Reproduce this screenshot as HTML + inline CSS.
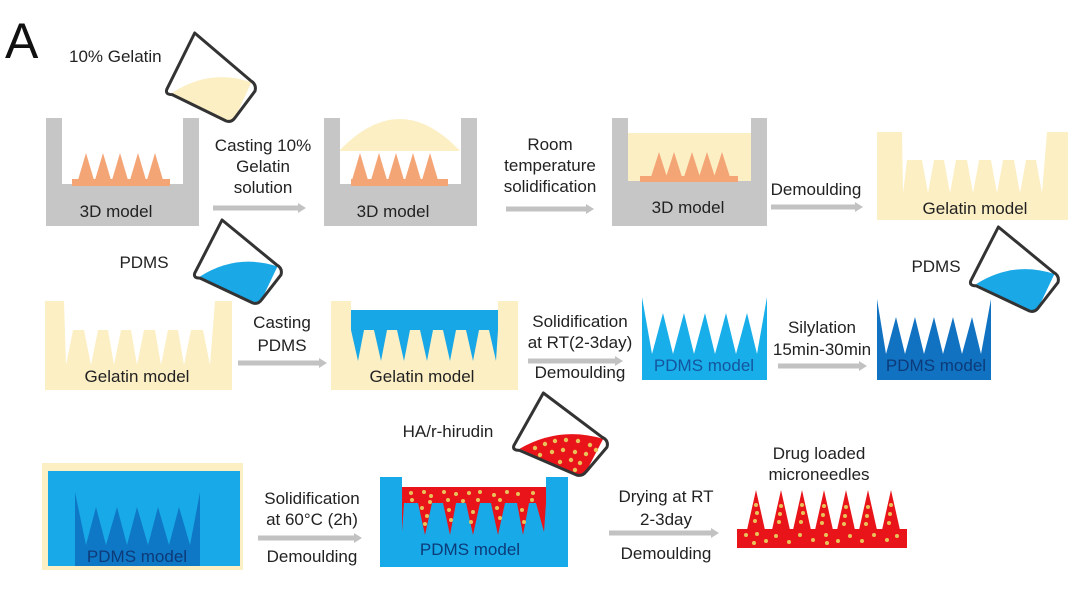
<!DOCTYPE html>
<html><head><meta charset="utf-8"><style>
html,body{margin:0;padding:0;background:#fff;}
svg{display:block;}
text{font-family:"Liberation Sans",Arial,sans-serif;fill:#222;font-size:17px;}
.c{text-anchor:middle;}
</style></head><body>
<svg width="1080" height="591" viewBox="0 0 1080 591" xmlns="http://www.w3.org/2000/svg">
<defs>
<g id="bk">
<path d="M33,0 L2,64 Q0,70 8,70 L68,100 Q74,102 78,96 L100,66 Q102,58 95,54 Z" fill="#fff"/>
</g>
</defs>
<rect width="1080" height="591" fill="#fff"/>

<!-- A -->
<text x="5" y="58" style="font-size:50px;fill:#111">A</text>
<text x="69" y="62">10% Gelatin</text>

<!-- beakers -->
<g transform="translate(165,33) scale(0.9,0.88)">
<path d="M8,68 Q50,40 96,56 L78,96 Q74,102 68,100 Z" fill="#fcefc4"/>
<path d="M33,0 L2,64 Q0,70 8,70 L68,100 Q74,102 78,96 L100,66 Q102,58 95,54 Z" fill="none" stroke="#333" stroke-width="3" vector-effect="non-scaling-stroke" stroke-linejoin="round"/>
</g>
<g transform="translate(193,220) scale(0.88,0.83)">
<path d="M8,68 Q50,40 96,56 L78,96 Q74,102 68,100 Z" fill="#1aa8e6"/>
<path d="M33,0 L2,64 Q0,70 8,70 L68,100 Q74,102 78,96 L100,66 Q102,58 95,54 Z" fill="none" stroke="#333" stroke-width="3" vector-effect="non-scaling-stroke" stroke-linejoin="round"/>
</g>
<g transform="translate(969,227) scale(0.89,0.84)">
<path d="M8,68 Q50,40 96,56 L78,96 Q74,102 68,100 Z" fill="#1aa8e6"/>
<path d="M33,0 L2,64 Q0,70 8,70 L68,100 Q74,102 78,96 L100,66 Q102,58 95,54 Z" fill="none" stroke="#333" stroke-width="3" vector-effect="non-scaling-stroke" stroke-linejoin="round"/>
</g>
<g transform="translate(512,393) scale(0.95,0.82)">
<path d="M8,68 Q50,40 96,56 L78,96 Q74,102 68,100 Z" fill="#e8141a"/>
<path d="M33,0 L2,64 Q0,70 8,70 L68,100 Q74,102 78,96 L100,66 Q102,58 95,54 Z" fill="none" stroke="#333" stroke-width="3" vector-effect="non-scaling-stroke" stroke-linejoin="round"/>
</g>
<g fill="#e9c35a">
<circle cx="535" cy="448" r="2.2"/><circle cx="545" cy="444" r="2.2"/><circle cx="555" cy="441" r="2.2"/><circle cx="566" cy="440" r="2.2"/><circle cx="578" cy="441" r="2.2"/><circle cx="590" cy="445" r="2.2"/>
<circle cx="540" cy="455" r="2.2"/><circle cx="552" cy="452" r="2.2"/><circle cx="563" cy="450" r="2.2"/><circle cx="575" cy="452" r="2.2"/><circle cx="586" cy="454" r="2.2"/><circle cx="596" cy="450" r="2.2"/>
<circle cx="560" cy="462" r="2.2"/><circle cx="571" cy="460" r="2.2"/><circle cx="580" cy="463" r="2.2"/><circle cx="575" cy="470" r="2.2"/>
</g>

<!-- Row 1 box 1 -->
<path d="M46,118 L62,118 L62,184 L183,184 L183,118 L199,118 L199,226 L46,226 Z" fill="#c6c6c6"/>
<rect x="72" y="179" width="98" height="7" fill="#f4a576"/>
<path d="M78,180 L86,153 L94,180 Z M95,180 L103,153 L111,180 Z M112,180 L120,153 L128,180 Z M130,180 L138,153 L146,180 Z M147,180 L155,153 L163,180 Z" fill="#f4a576"/>
<text class="c" x="116" y="217">3D model</text>

<text class="c" x="263" y="151">Casting 10%</text>
<text class="c" x="263" y="172">Gelatin</text>
<text class="c" x="263" y="193">solution</text>
<path d="M213,208 L300,208" stroke="#c2c2c2" stroke-width="5"/><path d="M298,203 L306,208 L298,213 Z" fill="#c2c2c2"/>

<!-- box 2 -->
<path d="M339,151 Q400,87 460,151 Z" fill="#fcefc4"/>
<path d="M324,118 L340,118 L340,184 L461,184 L461,118 L477,118 L477,226 L324,226 Z" fill="#c6c6c6"/>
<rect x="351" y="179" width="97" height="7" fill="#f4a576"/>
<path d="M352,180 L360,153 L368,180 Z M371,180 L379,153 L387,180 Z M388,180 L396,153 L404,180 Z M405,180 L413,153 L421,180 Z M422,180 L430,153 L438,180 Z" fill="#f4a576"/>
<text class="c" x="393" y="217">3D model</text>

<text class="c" x="550" y="150">Room</text>
<text class="c" x="550" y="171">temperature</text>
<text class="c" x="550" y="192">solidification</text>
<path d="M506,209 L588,209" stroke="#c2c2c2" stroke-width="5"/><path d="M586,204 L594,209 L586,214 Z" fill="#c2c2c2"/>

<!-- box 3 -->
<rect x="628" y="133" width="123" height="52" fill="#fcefc4"/>
<path d="M612,118 L628,118 L628,181 L751,181 L751,118 L767,118 L767,226 L612,226 Z" fill="#c6c6c6"/>
<rect x="640" y="176" width="98" height="6" fill="#f4a576"/>
<path d="M651,177 L659,152 L667,177 Z M666,177 L674,152 L682,177 Z M684,177 L692,152 L700,177 Z M699,177 L707,152 L715,177 Z M714,177 L722,152 L730,177 Z" fill="#f4a576"/>
<text class="c" x="688" y="213">3D model</text>

<text class="c" x="816" y="195">Demoulding</text>
<path d="M771,207 L857,207" stroke="#c2c2c2" stroke-width="5"/><path d="M855,202 L863,207 L855,212 Z" fill="#c2c2c2"/>

<!-- gelatin model top right -->
<path d="M877,220 L877,132 L902,132 L903,193 L907,160 L922,160 L928,193 L934,160 L944,160 L950,193 L956,160 L967,160 L973,193 L979,160 L991,160 L997,193 L1003,160 L1014,160 L1020,193 L1026,160 L1036,160 L1042,193 L1047,132 L1068,132 L1068,220 Z" fill="#fcefc4"/>
<text class="c" x="975" y="214">Gelatin model</text>

<!-- Row 2 -->
<text class="c" x="144" y="268">PDMS</text>
<path d="M45,390 L45,301 L64,301 L66,365 L73,330 L84,330 L91,365 L98,330 L108,330 L114,365 L121,330 L131,330 L137,365 L144,330 L155,330 L161,365 L168,330 L178,330 L184,365 L191,330 L203,330 L210,365 L215,301 L232,301 L232,390 Z" fill="#fcefc4"/>
<text class="c" x="137" y="382">Gelatin model</text>

<text class="c" x="282" y="328">Casting</text>
<text class="c" x="282" y="351">PDMS</text>
<path d="M238,363 L321,363" stroke="#c2c2c2" stroke-width="5"/><path d="M319,358 L327,363 L319,368 Z" fill="#c2c2c2"/>

<rect x="331" y="301" width="187" height="89" fill="#fcefc4"/>
<rect x="351" y="301" width="147" height="9" fill="#fff"/>
<path d="M351,310 L498,310 L498,330 L496,361 L489,330 L479,330 L473,361 L466,330 L456,330 L450,361 L443,330 L433,330 L427,361 L420,330 L410,330 L404,361 L397,330 L387,330 L381,361 L374,330 L364,330 L358,361 L351,330 Z" fill="#18a7e6"/>
<text class="c" x="422" y="382">Gelatin model</text>

<text class="c" x="580" y="327">Solidification</text>
<text class="c" x="580" y="348">at RT(2-3day)</text>
<text class="c" x="580" y="378">Demoulding</text>
<path d="M528,361 L617,361" stroke="#c2c2c2" stroke-width="5"/><path d="M615,356 L623,361 L615,366 Z" fill="#c2c2c2"/>

<path d="M642,380 L642,297 L652,354 L663,313 L673,354 L684,313 L694,354 L705,313 L715,354 L726,313 L736,354 L747,313 L757,354 L767,297 L767,380 Z" fill="#18aee9"/>
<text class="c" x="704" y="371" style="fill:#15559e">PDMS model</text>

<text class="c" x="822" y="333">Silylation</text>
<text class="c" x="822" y="355">15min-30min</text>
<path d="M778,366 L861,366" stroke="#c2c2c2" stroke-width="5"/><path d="M859,361 L867,366 L859,371 Z" fill="#c2c2c2"/>

<path d="M877,380 L877,299 L886,354 L896,317 L905,354 L915,317 L924,354 L934,317 L943,354 L953,317 L962,354 L972,317 L981,354 L991,299 L991,380 Z" fill="#1172c2"/>
<text class="c" x="936" y="371" style="fill:#0d3a78">PDMS model</text>
<text class="c" x="936" y="272">PDMS</text>

<!-- Row 3 -->
<rect x="42" y="463" width="201" height="107" fill="#fcefc4"/>
<rect x="48" y="471" width="192" height="95" fill="#18aae8"/>
<path d="M75,566 L75,492 L86,545 L96,507 L106,545 L117,507 L127,545 L137,507 L148,545 L158,507 L169,545 L179,507 L190,545 L200,492 L200,566 Z" fill="#0f78c6"/>
<text class="c" x="137" y="562" style="fill:#0d3a78">PDMS model</text>

<text class="c" x="312" y="504">Solidification</text>
<text class="c" x="312" y="525">at 60°C (2h)</text>
<text class="c" x="312" y="562">Demoulding</text>
<path d="M258,538 L356,538" stroke="#c2c2c2" stroke-width="5"/><path d="M354,533 L362,538 L354,543 Z" fill="#c2c2c2"/>

<text class="c" x="448" y="437">HA/r-hirudin</text>

<path d="M380,477 L402,477 L402,487 L546,487 L546,477 L568,477 L568,567 L380,567 Z" fill="#18aae8"/>
<path d="M402,487 L546,487 L546,503 L544,532 L536,503 L529,503 L523,535 L517,503 L505,503 L498,535 L491,503 L480,503 L473,535 L466,503 L456,503 L450,535 L443,503 L432,503 L425,535 L418,503 L404,503 L402,532 Z" fill="#e8141a"/>
<g fill="#e9c35a">
<circle cx="411" cy="493" r="2"/><circle cx="424" cy="492" r="2"/><circle cx="431" cy="496" r="2"/><circle cx="444" cy="492" r="2"/><circle cx="456" cy="494" r="2"/><circle cx="469" cy="493" r="2"/><circle cx="480" cy="492" r="2"/><circle cx="494" cy="495" r="2"/><circle cx="507" cy="492" r="2"/><circle cx="518" cy="494" r="2"/><circle cx="533" cy="493" r="2"/>
<circle cx="412" cy="500" r="2"/><circle cx="430" cy="502" r="2"/><circle cx="448" cy="500" r="2"/><circle cx="463" cy="501" r="2"/><circle cx="478" cy="500" r="2"/><circle cx="500" cy="500" r="2"/><circle cx="532" cy="500" r="2"/>
<circle cx="422" cy="508" r="2"/><circle cx="427" cy="516" r="2"/><circle cx="425" cy="524" r="2"/><circle cx="449" cy="510" r="2"/><circle cx="451" cy="520" r="2"/><circle cx="473" cy="512" r="2"/><circle cx="471" cy="522" r="2"/><circle cx="497" cy="508" r="2"/><circle cx="500" cy="518" r="2"/><circle cx="522" cy="510" r="2"/><circle cx="524" cy="522" r="2"/>
</g>
<text class="c" x="470" y="555" style="fill:#0d3a78">PDMS model</text>

<text class="c" x="666" y="502">Drying at RT</text>
<text class="c" x="666" y="525">2-3day</text>
<text class="c" x="666" y="559">Demoulding</text>
<path d="M609,533 L713,533" stroke="#c2c2c2" stroke-width="5"/><path d="M711,528 L719,533 L711,538 Z" fill="#c2c2c2"/>

<text class="c" x="819" y="459">Drug loaded</text>
<text class="c" x="819" y="480">microneedles</text>
<rect x="737" y="529" width="170" height="19" fill="#e8141a"/>
<path d="M747,530 L756,490 L765,530 Z M772,530 L781,490 L790,530 Z M793,530 L802,490 L811,530 Z M815,530 L824,490 L833,530 Z M837,530 L846,490 L855,530 Z M859,530 L868,490 L877,530 Z M882,530 L891,490 L900,530 Z" fill="#e8141a"/>
<g fill="#e9c35a">
<circle cx="756" cy="505" r="2"/><circle cx="757" cy="513" r="2"/><circle cx="755" cy="521" r="2"/><circle cx="781" cy="506" r="2"/><circle cx="780" cy="514" r="2"/><circle cx="779" cy="522" r="2"/><circle cx="802" cy="505" r="2"/><circle cx="803" cy="513" r="2"/><circle cx="801" cy="522" r="2"/><circle cx="824" cy="506" r="2"/><circle cx="823" cy="515" r="2"/><circle cx="822" cy="523" r="2"/><circle cx="846" cy="507" r="2"/><circle cx="845" cy="516" r="2"/><circle cx="844" cy="524" r="2"/><circle cx="868" cy="507" r="2"/><circle cx="867" cy="516" r="2"/><circle cx="866" cy="524" r="2"/><circle cx="891" cy="505" r="2"/><circle cx="890" cy="514" r="2"/><circle cx="889" cy="523" r="2"/>
<circle cx="746" cy="535" r="2"/><circle cx="757" cy="534" r="2"/><circle cx="766" cy="541" r="2"/><circle cx="776" cy="536" r="2"/><circle cx="789" cy="542" r="2"/><circle cx="800" cy="535" r="2"/><circle cx="813" cy="540" r="2"/><circle cx="826" cy="535" r="2"/><circle cx="838" cy="541" r="2"/><circle cx="850" cy="536" r="2"/><circle cx="862" cy="541" r="2"/><circle cx="874" cy="535" r="2"/><circle cx="887" cy="540" r="2"/><circle cx="897" cy="536" r="2"/><circle cx="754" cy="543" r="2"/><circle cx="827" cy="543" r="2"/>
</g>
</svg>
</body></html>
